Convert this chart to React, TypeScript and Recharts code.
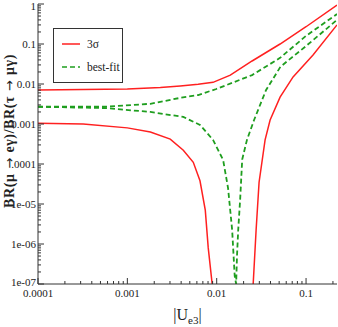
import { LineChart, Line, XAxis, YAxis, Legend } from 'recharts'

// |Ue3| grid and branching ratios, one pair per curve
const redUpperU = [1e-4, 3.2e-4, 1e-3, 2.34e-3, 3.91e-3, 6.2e-3, 9.1e-3, 0.0142, 0.0249, 0.0512, 0.1, 0.222]
const redUpperBR = [0.0071, 0.0073, 0.0075, 0.0082, 0.0089, 0.0098, 0.011, 0.0167, 0.0376, 0.1, 0.27, 0.94]

const redLowerU = [1e-4, 3.2e-4, 1e-3, 1.81e-3, 3.02e-3, 4.23e-3, 5.47e-3, 6.5e-3, 7.45e-3, 8.04e-3, 8.9e-3]
const redLowerBR = [0.00105, 0.001, 8e-4, 6.3e-4, 4.2e-4, 2.2e-4, 1.1e-4, 3.8e-5, 7e-6, 8e-7, 1e-7]

const redRightU = [0.0256, 0.0276, 0.0298, 0.0348, 0.0396, 0.0512, 0.0716, 0.1197, 0.222]
const redRightBR = [1e-7, 2.2e-6, 3.5e-5, 4e-4, 1.26e-3, 4.7e-3, 0.015, 0.053, 0.3]

const greenUpperU = [1e-4, 5.7e-4, 1.81e-3, 3.91e-3, 6.2e-3, 9.9e-3, 0.0249, 0.0512, 0.1, 0.222]
const greenUpperBR = [0.0027, 0.0027, 0.0032, 0.0045, 0.0053, 0.0075, 0.0167, 0.045, 0.16, 0.56]

const greenLowerU = [1e-4, 5.7e-4, 1.81e-3, 4.23e-3, 6.5e-3, 9.1e-3, 0.0118, 0.0134, 0.0149, 0.0159, 0.0165, 0.0169, 0.0174, 0.0183, 0.0193, 0.0218, 0.0262, 0.0356, 0.0517, 0.1, 0.222]
const greenLowerBR = [0.0027, 0.0025, 0.002, 0.0015, 9.5e-4, 4e-4, 1.26e-4, 2.5e-5, 2.2e-6, 1.6e-7, 1e-7, 5.5e-7, 2.2e-6, 1.3e-5, 1.3e-4, 4e-4, 1.26e-3, 7e-3, 0.027, 0.089, 0.4]

const xMajor = [1e-4, 1e-3, 1e-2, 1e-1]
const xLabels = ['0.0001', '0.001', '0.01', '0.1']
const yMajor = [1, 0.1, 0.01, 0.001, 1e-4, 1e-5, 1e-6, 1e-7]
const yLabels = ['1', '0.1', '0.01', '0.001', '.0001', '1e-05', '1e-06', '1e-07']

const X_MAX = 0.222
const RED = '#ff2020'
const GREEN = '#1f9e1f'
const AXIS = '#333'
const FONT = '"Liberation Serif", "DejaVu Serif", serif'
const ARROW_FONT = '"DejaVu Sans", sans-serif'

const zip = (us: number[], brs: number[]) => us.map((u, i) => ({ u, br: brs[i] }))

// log minor ticks 2..9 in every decade
const minors = (majors: number[], max: number) => {
  const out: number[] = []
  majors.forEach(d => {
    for (let k = 2; k <= 9; k++) if (k * d <= max * 1.0001) out.push(k * d)
  })
  return out
}
const xTicks = [...xMajor, ...minors(xMajor, X_MAX)]
const yTicks = [...yMajor, ...minors(yMajor.filter(v => v < 1), 1)]

const majorIndex = (list: number[], v: number) =>
  list.findIndex(m => Math.abs(m - v) < m * 1e-6)

function BottomTick({ x, y, payload }: any) {
  const i = majorIndex(xMajor, payload.value)
  return (
    <g>
      <line x1={x} x2={x} y1={y} y2={y - (i >= 0 ? 6 : 3)} stroke={AXIS} />
      {i >= 0 && (
        <text x={x} y={y + 13} textAnchor="middle" fontSize={11} fontFamily={FONT} fill="#222">
          {xLabels[i]}
        </text>
      )}
    </g>
  )
}

function TopTick({ x, y, payload }: any) {
  const i = majorIndex(xMajor, payload.value)
  return <line x1={x} x2={x} y1={y} y2={y + (i >= 0 ? 6 : 3)} stroke={AXIS} />
}

function LeftTick({ x, y, payload }: any) {
  const i = majorIndex(yMajor, payload.value)
  // keep the top label inside the picture and the bottom one clear of 0.0001
  const dy = i === 0 ? 6 : i === yMajor.length - 1 ? 2 : 4
  return (
    <g>
      <line x1={x} x2={x + (i >= 0 ? 6 : 3)} y1={y} y2={y} stroke={AXIS} />
      {i >= 0 && (
        <text x={x - 2} y={y + dy} textAnchor="end" fontSize={11} fontFamily={FONT} fill="#222">
          {yLabels[i]}
        </text>
      )}
    </g>
  )
}

function RightTick({ x, y, payload }: any) {
  const i = majorIndex(yMajor, payload.value)
  return <line x1={x} x2={x - (i >= 0 ? 6 : 3)} y1={y} y2={y} stroke={AXIS} />
}

function XTitle({ viewBox }: any) {
  const cx = viewBox ? viewBox.x + viewBox.width / 2 : 188
  return (
    <text x={cx} y={320} textAnchor="middle" fontSize={16} fontFamily={FONT} fill="#222">
      |U<tspan fontSize={11} dy={4}>e3</tspan><tspan dy={-4}>|</tspan>
    </text>
  )
}

function YTitle() {
  const arrow = (
    <tspan fontFamily={ARROW_FONT} fontWeight="normal" fontSize={13}>
      {' → '}
    </tspan>
  )
  return (
    <text
      x={14}
      y={131}
      transform="rotate(-90, 14, 131)"
      textAnchor="middle"
      fontSize={14}
      fontWeight="bold"
      letterSpacing={0.6}
      fontFamily={FONT}
      fill="#222"
    >
      BR(μ{arrow}eγ)/BR(τ{arrow}μγ)
    </text>
  )
}

function LegendBox({ payload }: any) {
  const items = (payload || []).filter((p: any) => p.type !== 'none')
  return (
    <svg width={70} height={55} style={{ display: 'block' }}>
      <rect x={0.5} y={0.5} width={69} height={54} fill="#fff" stroke={AXIS} />
      {items.map((p: any, i: number) => {
        const cy = 16 + i * 23
        return (
          <g key={p.value}>
            <line
              x1={9}
              x2={27}
              y1={cy}
              y2={cy}
              stroke={p.color}
              strokeWidth={1.5}
              strokeDasharray={p.payload?.strokeDasharray}
            />
            <text x={34} y={cy + 4} fontSize={11.5} fontFamily={FONT} fill="#222">
              {p.value}
            </text>
          </g>
        )
      })}
    </svg>
  )
}

export default function App() {
  return (
    <div style={{ position: 'absolute', left: 0, top: 0, background: '#fff' }}>
      <LineChart width={338} height={327} margin={{ top: 4, right: 1, bottom: 0, left: 0 }}>
        <XAxis
          dataKey="u"
          type="number"
          scale="log"
          domain={[1e-4, X_MAX]}
          allowDataOverflow
          ticks={xTicks}
          interval={0}
          tick={<BottomTick />}
          tickLine={false}
          tickSize={0}
          tickMargin={0}
          height={43}
          stroke={AXIS}
          label={<XTitle />}
        />
        <XAxis
          xAxisId="top"
          orientation="top"
          type="number"
          scale="log"
          domain={[1e-4, X_MAX]}
          allowDataOverflow
          ticks={xTicks}
          interval={0}
          tick={<TopTick />}
          tickLine={false}
          tickSize={0}
          tickMargin={0}
          height={0}
          stroke={AXIS}
        />
        <YAxis
          type="number"
          scale="log"
          domain={[1e-7, 1]}
          allowDataOverflow
          ticks={yTicks}
          interval={0}
          tick={<LeftTick />}
          tickLine={false}
          tickSize={0}
          tickMargin={0}
          width={38}
          stroke={AXIS}
          label={<YTitle />}
        />
        <YAxis
          yAxisId="right"
          orientation="right"
          type="number"
          scale="log"
          domain={[1e-7, 1]}
          allowDataOverflow
          ticks={yTicks}
          interval={0}
          tick={<RightTick />}
          tickLine={false}
          tickSize={0}
          tickMargin={0}
          width={0}
          stroke={AXIS}
        />
        <Legend
          layout="vertical"
          align="center"
          verticalAlign="middle"
          content={<LegendBox />}
          wrapperStyle={{ position: 'absolute', left: 53, top: 28, width: 70, height: 55 }}
        />
        <Line data={zip(redUpperU, redUpperBR)} dataKey="br" name="3σ" stroke={RED} strokeWidth={1.5} dot={false} isAnimationActive={false} />
        <Line data={zip(greenUpperU, greenUpperBR)} dataKey="br" name="best-fit" stroke={GREEN} strokeWidth={1.8} strokeDasharray="5 3" dot={false} isAnimationActive={false} />
        <Line data={zip(redLowerU, redLowerBR)} dataKey="br" name="3σ low" legendType="none" stroke={RED} strokeWidth={1.5} dot={false} isAnimationActive={false} />
        <Line data={zip(redRightU, redRightBR)} dataKey="br" name="3σ right" legendType="none" stroke={RED} strokeWidth={1.5} dot={false} isAnimationActive={false} />
        <Line data={zip(greenLowerU, greenLowerBR)} dataKey="br" name="best-fit low" legendType="none" stroke={GREEN} strokeWidth={1.8} strokeDasharray="5 3" dot={false} isAnimationActive={false} />
      </LineChart>
    </div>
  )
}
